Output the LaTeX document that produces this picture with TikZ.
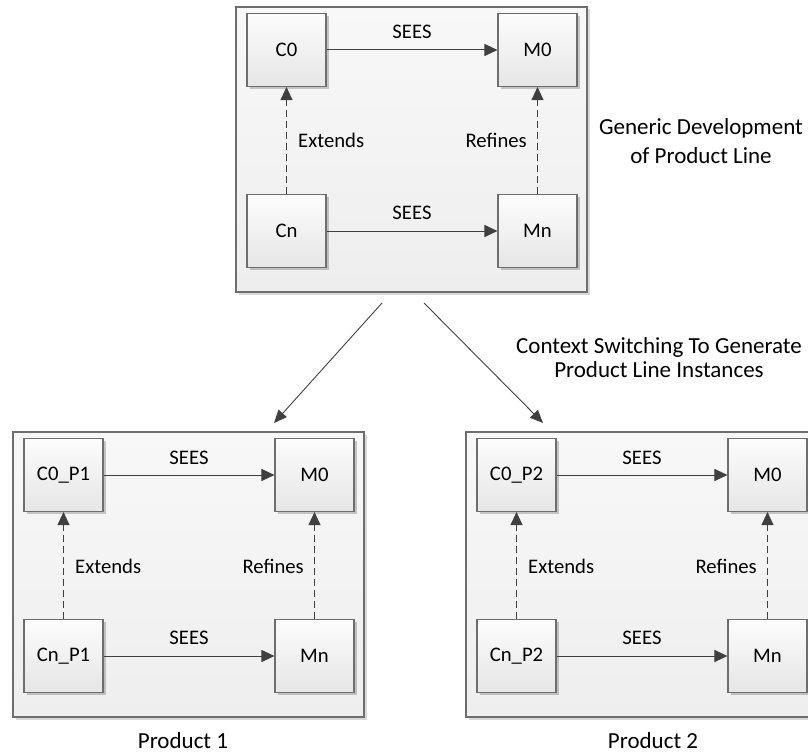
\documentclass[tikz,border=0pt]{standalone}
\usepackage{fontspec}
\setmainfont{Carlito}
\usetikzlibrary{arrows.meta,shadows}

\definecolor{boxline}{HTML}{6E6E6E}
\definecolor{arrowline}{HTML}{404040}
\definecolor{paneltop}{HTML}{F8F8F8}
\definecolor{panelbottom}{HTML}{EEEEEE}
\definecolor{blocktop}{HTML}{FCFCFC}
\definecolor{blockbottom}{HTML}{E6E6E6}

% one panel: #1 name prefix, #2/#3 top-left corner, #4 upper-left block, #5 lower-left block
\newcommand\productpanel[5]{%
  \begin{scope}[shift={(#2,#3)}]
    \node[frame] (#1box) at (175.5,142.5) {};
    \node[block] (#1c0) at (50.5,43)  {#4};
    \node[block] (#1m0) at (301.5,43) {M0};
    \node[block] (#1cn) at (50.5,224) {#5};
    \node[block] (#1mn) at (301.5,224) {Mn};
    \draw[sees] (#1c0) -- (#1m0);
    \draw[sees] (#1cn) -- (#1mn);
    \draw[ext] (#1cn.north) -- (#1c0.south);
    \draw[ext] (#1mn.north) -- (#1m0.south);
    \node[lbl] (#1s0) at (176,32)  {SEES};
    \node[lbl] (#1sn) at (176,212) {SEES};
    \node[lbl, anchor=base west] (#1ex) at (62,141)  {Extends};
    \node[lbl, anchor=base east] (#1rf) at (291,141) {Refines};
  \end{scope}}

\begin{document}
\begin{tikzpicture}[x=1pt, y=-1pt,
  frame/.style={draw=boxline, line width=1.1pt, inner sep=0pt,
    top color=paneltop, bottom color=panelbottom,
    minimum width=351pt, minimum height=285pt,
    drop shadow={shadow xshift=2.5pt, shadow yshift=-2.5pt, fill=black, opacity=0.15}},
  block/.style={draw=boxline, line width=1.1pt, inner sep=0pt,
    top color=blocktop, bottom color=blockbottom,
    minimum width=79pt, minimum height=73pt,
    font=\fontsize{20.7}{25}\selectfont,
    drop shadow={shadow xshift=2.5pt, shadow yshift=-2.5pt, fill=black, opacity=0.2}},
  sees/.style={draw=arrowline, line width=1pt,
    -{Triangle[length=13pt, width=12pt]}},
  ext/.style={sees, dash pattern=on 7pt off 4pt},
  lbl/.style={font=\fontsize{20.7}{25}\selectfont, anchor=base, inner sep=0pt},
  caption/.style={font=\fontsize{23}{28}\selectfont, anchor=base, inner sep=0pt},
  switch/.style={draw=arrowline, line width=0.9pt,
    -{Triangle[length=13pt, width=11pt]}}]

  \useasboundingbox (0,0) rectangle (808,754);
  \clip (0,0) rectangle (808,754);

  \productpanel{g}{236}{7}{C0}{Cn}
  \productpanel{a}{13}{432}{C0\_P1}{Cn\_P1}
  \productpanel{b}{466}{432}{C0\_P2}{Cn\_P2}

  % context switching from the generic model to the two instances
  \coordinate (leftstart)  at (382,303);
  \coordinate (rightstart) at (424,303);
  \coordinate (lefttip)    at (274,423);
  \coordinate (righttip)   at (543,423);
  \draw[switch] (leftstart) -- (lefttip);
  \draw[switch] (rightstart) -- (righttip);

  \node[caption] (gen1) at (701,135) {Generic Development};
  \node[caption] (gen2) at (701,164) {of Product Line};
  \node[caption] (ctx1) at (659,353) {Context Switching To Generate};
  \node[caption] (ctx2) at (659,377) {Product Line Instances};
  \node[caption] (p1) at (183,748) {Product 1};
  \node[caption] (p2) at (653,748) {Product 2};
\end{tikzpicture}
\end{document}
